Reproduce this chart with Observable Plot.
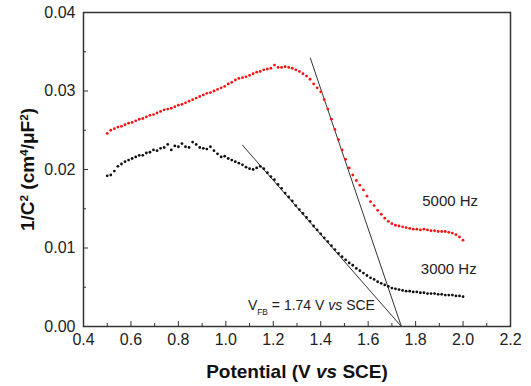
<!DOCTYPE html>
<html><head><meta charset="utf-8">
<script src="https://cdn.jsdelivr.net/npm/d3@7"></script>
<script src="https://cdn.jsdelivr.net/npm/@observablehq/plot@0.6"></script>
<style>body{margin:0;background:#fff}</style>
</head><body><div id="chart"></div>
<script>
// Potential (V vs SCE)
const potential = [0.500,0.515,0.530,0.545,0.560,0.575,0.590,0.605,0.620,0.635,0.650,0.665,0.680,0.695,0.710,0.725,0.740,0.755,0.770,0.785,0.800,0.815,0.830,0.845,0.860,0.875,0.890,0.905,0.920,0.935,0.950,0.965,0.980,0.995,1.010,1.025,1.040,1.055,1.070,1.085,1.100,1.115,1.130,1.145,1.160,1.175,1.190,1.205,1.220,1.235,1.250,1.265,1.280,1.295,1.310,1.325,1.340,1.355,1.370,1.385,1.400,1.415,1.430,1.445,1.460,1.475,1.490,1.505,1.520,1.535,1.550,1.565,1.580,1.595,1.610,1.625,1.640,1.655,1.670,1.685,1.700,1.715,1.730,1.745,1.760,1.775,1.790,1.805,1.820,1.835,1.850,1.865,1.880,1.895,1.910,1.925,1.940,1.955,1.970,1.985,2.000];
// 1/C^2 at 5000 Hz
const c5000 = [.0246,.0250,.0252,.0254,.0255,.0257,.0259,.0260,.0262,.0264,.0265,.0267,.0269,.0270,.0272,.0274,.0276,.0277,.0278,.0280,.0282,.0283,.0285,.0287,.0289,.0291,.0293,.0295,.0297,.0298,.0300,.0302,.0304,.0306,.0309,.0311,.0314,.0316,.0317,.0318,.0320,.0322,.0324,.0325,.0327,.0328,.0329,.0333,.0330,.0330,.0331,.0330,.0329,.0327,.0325,.0322,.0319,.0315,.0309,.0304,.0299,.0289,.0277,.0264,.0251,.0238,.0225,.0213,.0202,.0193,.0186,.0180,.0174,.0166,.0159,.0154,.0148,.0143,.0138,.0134,.0131,.0129,.0128,.0127,.0126,.0125,.0124,.0124,.0123,.0124,.0123,.0122,.0122,.0121,.0121,.0121,.0120,.0119,.0117,.0114,.0110];
// 1/C^2 at 3000 Hz
const c3000 = [.0192,.0193,.0198,.0204,.0207,.0210,.0212,.0214,.0216,.0218,.0218,.0221,.0222,.0225,.0224,.0227,.0228,.0232,.0225,.0230,.0229,.0233,.0229,.0228,.0235,.0232,.0228,.0227,.0226,.0229,.0224,.0220,.0216,.0217,.0214,.0212,.0210,.0208,.0206,.0203,.0201,.0200,.0202,.0204,.0201,.0196,.0191,.0187,.0181,.0176,.0170,.0165,.0160,.0154,.0149,.0144,.0139,.0134,.0128,.0123,.0118,.0113,.0108,.0103,.0098,.0093,.0089,.0085,.0081,.0078,.0074,.0071,.0068,.0065,.0062,.0060,.0057,.0055,.0053,.0051,.0049,.0048,.0047,.0046,.0045,.0045,.0044,.0044,.0043,.0043,.0042,.0042,.0042,.0041,.0041,.0040,.0040,.0040,.0039,.0039,.0038];
// Tangent (flat-band) lines
const tangent5000X = [1.356, 1.74];
const tangent5000Y = [0.0342, 0];
const tangent3000X = [1.07, 1.74];
const tangent3000Y = [0.0231, 0];
// Ticks
const xMajor = [0.4,0.6,0.8,1.0,1.2,1.4,1.6,1.8,2.0,2.2];
const xMinor = [0.5,0.7,0.9,1.1,1.3,1.5,1.7,1.9,2.1];
const yMajor = [0,0.01,0.02,0.03,0.04];
const yMinor = [0.005,0.015,0.025,0.035];
const seriesLabels = ["5000 Hz", "3000 Hz"];
const vfbLabel = "VFB = 1.74 V vs SCE";
const xTitle = "Potential (V vs SCE)";
const yTitle = "1/C2 (cm4/μF2)";

const rows5000 = potential.map((v, i) => ({v, c: c5000[i]}));
const rows3000 = potential.map((v, i) => ({v, c: c3000[i]}));
const tan1 = tangent5000X.map((v, i) => ({v, c: tangent5000Y[i]}));
const tan2 = tangent3000X.map((v, i) => ({v, c: tangent3000Y[i]}));

const svg = Plot.plot({
  width: 531, height: 386,
  marginLeft: 83, marginRight: 21, marginTop: 12, marginBottom: 60,
  style: {fontFamily: "Arial, 'Liberation Sans', sans-serif", fontSize: "16px", color: "#222", background: "#fff"},
  x: {domain: [0.4, 2.2], axis: null},
  y: {domain: [0, 0.04], axis: null},
  marks: [
    Plot.line(tan1, {x: "v", y: "c", stroke: "#333", strokeWidth: 1}),
    Plot.line(tan2, {x: "v", y: "c", stroke: "#333", strokeWidth: 1}),
    Plot.dot(rows5000, {x: "v", y: "c", r: 1.4, fill: "#ff1010", stroke: "none"}),
    Plot.dot(rows3000, {x: "v", y: "c", r: 1.4, fill: "#111", stroke: "none"}),
    Plot.axisX(xMajor, {tickSize: -5, tickPadding: 12, tickFormat: d3.format(".1f"), fontSize: 16, label: null, stroke: "#333"}),
    Plot.axisX(xMinor, {tickSize: -3, tickPadding: 0, tickFormat: () => "", label: null, stroke: "#333"}),
    Plot.axisY(yMajor, {tickSize: -5, tickPadding: 13, tickFormat: d3.format(".2f"), fontSize: 16, label: null, stroke: "#333"}),
    Plot.axisY(yMinor, {tickSize: -3, tickPadding: 0, tickFormat: () => "", label: null, stroke: "#333"}),
    Plot.frame({stroke: "#333", strokeWidth: 1.5}),
    Plot.text([seriesLabels[0]], {x: 1.828, y: 0.0160, text: d => d, textAnchor: "start", fontSize: 15, fill: "#222"}),
    Plot.text([seriesLabels[1]], {x: 1.822, y: 0.0073, text: d => d, textAnchor: "start", fontSize: 15, fill: "#222"}),
    Plot.text([vfbLabel], {x: 1.093, y: 0.0027, text: d => d, textAnchor: "start", fontSize: 14, fill: "#222"}),
    Plot.text([xTitle], {frameAnchor: "bottom", dy: 51, text: d => d, textAnchor: "middle", fontSize: 19, fontWeight: "bold", fill: "#111"}),
    Plot.text([yTitle], {frameAnchor: "left", dx: -56, rotate: -90, text: d => d, textAnchor: "middle", lineAnchor: "middle", fontSize: 19, fontWeight: "bold", fill: "#111"})
  ]
});

function rich(text, parts) {
  const s = d3.select(svg).selectAll("text").filter(function() { return this.textContent === text; });
  s.each(function() {
    const el = d3.select(this);
    el.text(null);
    for (const p of parts) {
      const t = el.append("tspan").text(p.t);
      if (p.i) t.attr("font-style", "italic");
      if (p.sup) t.attr("baseline-shift", "super").attr("font-size", "62%");
      if (p.sub) t.attr("baseline-shift", "sub").attr("font-size", "60%");
    }
  });
}
rich(xTitle, [{t: "Potential (V "}, {t: "vs", i: true}, {t: " SCE)"}]);
rich(yTitle, [{t: "1/C"}, {t: "2", sup: true}, {t: " (cm"}, {t: "4", sup: true}, {t: "/μF"}, {t: "2", sup: true}, {t: ")"}]);
rich(vfbLabel, [{t: "V"}, {t: "FB", sub: true}, {t: " = 1.74 V "}, {t: "vs", i: true}, {t: " SCE"}]);

document.getElementById("chart").append(svg);
</script>
</body></html>
